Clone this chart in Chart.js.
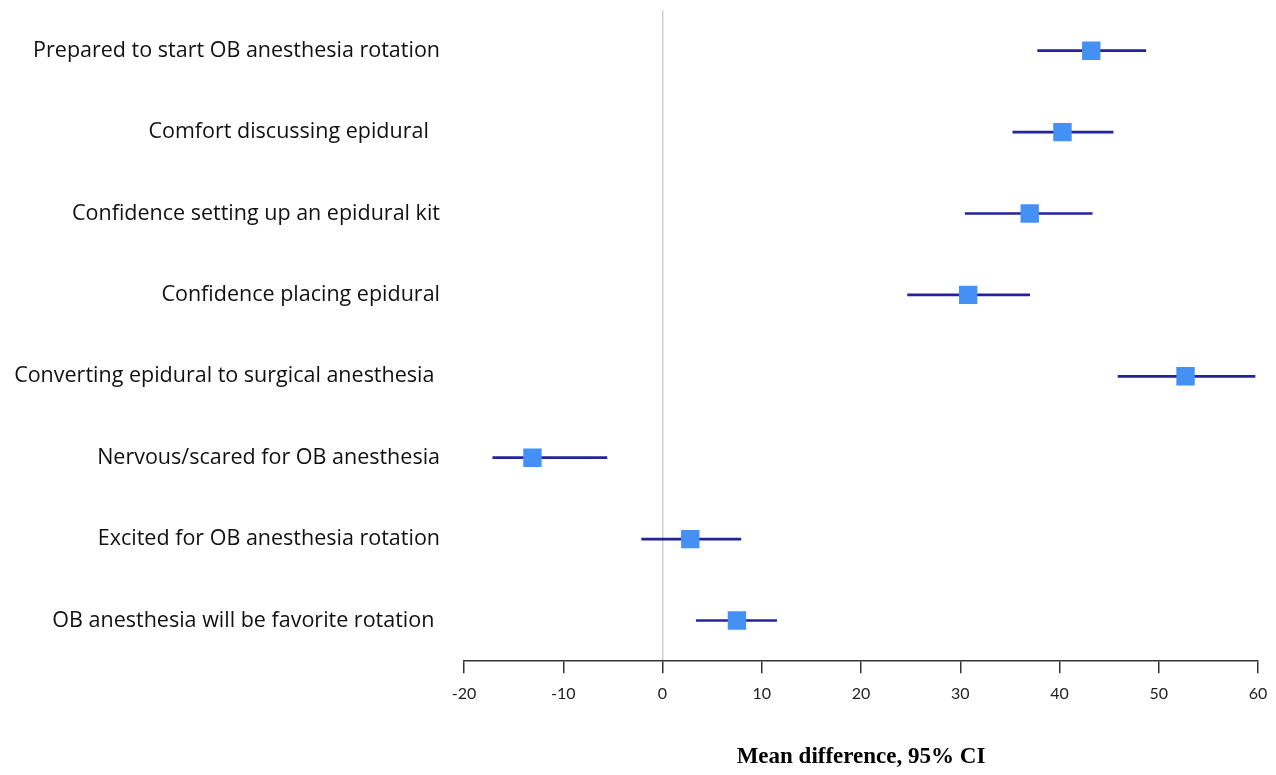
<!DOCTYPE html>
<html>
<head>
<meta charset="utf-8">
<script src="https://cdn.jsdelivr.net/npm/chart.js@4.4.1/dist/chart.umd.min.js"></script>
<style>
  html, body { margin: 0; padding: 0; background: #fff; }
  #wrap { width: 1276px; height: 775px; }
</style>
</head>
<body>
<div id="wrap"><canvas id="forest"></canvas></div>
<script>
// Items, top to bottom
const items = [
    'Prepared to start OB anesthesia rotation',
    'Comfort discussing epidural  ',
    'Confidence setting up an epidural kit',
    'Confidence placing epidural',
    'Converting epidural to surgical anesthesia ',
    'Nervous/scared for OB anesthesia',
    'Excited for OB anesthesia rotation',
    'OB anesthesia will be favorite rotation '
];

// Mean difference and 95% CI bounds
const meanDiff = [43.2, 40.3, 37.0, 30.8, 52.7, -13.1, 2.8, 7.5];
const ciLow    = [37.8, 35.3, 30.5, 24.7, 45.9, -17.1, -2.1, 3.4];
const ciHigh   = [48.7, 45.4, 43.3, 37.0, 59.7, -5.6, 7.9, 11.5];

// X axis
const xMin = -20;
const xMax = 60;
const xStep = 10;

const ciRanges = ciLow.map((lo, i) => [lo, ciHigh[i]]);

const ctx = document.getElementById('forest').getContext('2d');
new Chart(ctx, {
    type: 'bar',
    data: {
        labels: items,
        datasets: [
            {
                type: 'line',
                label: 'Mean difference',
                data: meanDiff,
                indexAxis: 'y',
                showLine: false,
                pointStyle: 'rect',
                pointRadius: 13,
                pointHoverRadius: 13,
                pointBackgroundColor: '#4590f5',
                pointBorderColor: '#4590f5',
                pointBorderWidth: 0,
                order: 0
            },
            {
                label: '95% CI',
                data: ciRanges,
                backgroundColor: '#23239a',
                barThickness: 2,
                borderSkipped: false,
                order: 1
            }
        ]
    },
    options: {
        indexAxis: 'y',
        responsive: true,
        maintainAspectRatio: false,
        animation: false,
        layout: { autoPadding: false, padding: { left: 0, right: 18, top: 10, bottom: 4 } },
        plugins: {
            legend: { display: false },
            tooltip: { enabled: false }
        },
        scales: {
            y: {
                type: 'category',
                grid: { display: false, drawTicks: false },
                border: { display: false },
                ticks: {
                    color: '#111',
                    padding: 24,
                    font: { family: 'Open Sans', size: 21.5 }
                },
                afterFit: (scale) => {
                    scale.width = 464;
                    scale.paddingTop = 0;
                    scale.paddingBottom = 0;
                }
            },
            x: {
                type: 'linear',
                min: xMin,
                max: xMax,
                grid: {
                    color: (c) => (c.tick && c.tick.value === 0) ? '#cfcfcf' : 'rgba(0,0,0,0)',
                    lineWidth: 1.5,
                    tickColor: '#333',
                    tickLength: 12,
                    tickWidth: 1.5
                },
                border: { color: '#333', width: 1.5 },
                ticks: {
                    stepSize: xStep,
                    color: '#222',
                    padding: 11,
                    font: { family: 'Lato', size: 16 }
                },
                title: {
                    display: true,
                    text: 'Mean difference, 95% CI',
                    color: '#000',
                    padding: { top: 29, bottom: 0 },
                    font: { family: 'Liberation Serif', size: 23, weight: 'bold' }
                },
                afterFit: (scale) => {
                    scale.paddingLeft = 0;
                    scale.paddingRight = 0;
                }
            }
        }
    }
});
</script>
</body>
</html>
